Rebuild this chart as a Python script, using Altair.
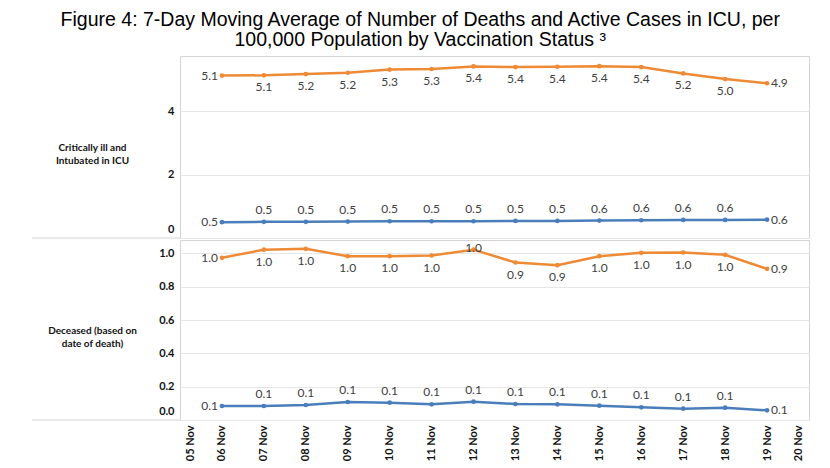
import altair as alt
import pandas as pd

# ---------------- data ----------------
dates = ["2021-11-06", "2021-11-07", "2021-11-08", "2021-11-09", "2021-11-10",
         "2021-11-11", "2021-11-12", "2021-11-13", "2021-11-14", "2021-11-15",
         "2021-11-16", "2021-11-17", "2021-11-18", "2021-11-19"]
axis_days = list(range(5, 21))  # tick labels 05 Nov .. 20 Nov

series_names = ["Unvaccinated", "Vaccinated"]
series_colors = ["#EE8A35", "#4A7EBB"]

icu_unvax = [5.13, 5.14, 5.18, 5.22, 5.32, 5.34, 5.42, 5.40, 5.41, 5.43, 5.40, 5.20, 5.02, 4.89]
icu_vax = [0.50, 0.51, 0.51, 0.52, 0.53, 0.53, 0.53, 0.54, 0.54, 0.55, 0.56, 0.57, 0.57, 0.58]
death_unvax = [0.973, 1.022, 1.027, 0.983, 0.983, 0.987, 1.022, 0.945, 0.929, 0.983, 1.003, 1.005, 0.991, 0.907]
death_vax = [0.084, 0.084, 0.090, 0.108, 0.104, 0.094, 0.110, 0.096, 0.094, 0.086, 0.076, 0.068, 0.074, 0.058]

icu_ticks = [0, 2, 4]
death_ticks = [0.0, 0.2, 0.4, 0.6, 0.8, 1.0]

title_lines = ["Figure 4: 7-Day Moving Average of Number of Deaths and Active Cases in ICU, per",
               "100,000 Population by Vaccination Status \u00b3"]
icu_label = ["Critically ill and", "Intubated in ICU"]
death_label = ["Deceased (based on", "date of death)"]


def build_df(values_by_series, default_pos, overrides=None):
    overrides = overrides or {}
    rows = []
    for name, vals in values_by_series.items():
        n = len(vals)
        for i, (d, v) in enumerate(zip(dates, vals)):
            if i == 0:
                pos = "left"
            elif i == n - 1:
                pos = "right"
            else:
                pos = overrides.get((name, d), default_pos[name])
            rows.append({"date": pd.Timestamp(d), "series": name, "value": v, "pos": pos})
    return pd.DataFrame(rows)


icu_df = build_df({"Unvaccinated": icu_unvax, "Vaccinated": icu_vax},
                  {"Unvaccinated": "below", "Vaccinated": "above"})
death_df = build_df({"Unvaccinated": death_unvax, "Vaccinated": death_vax},
                    {"Unvaccinated": "below", "Vaccinated": "above"},
                    overrides={("Unvaccinated", "2021-11-12"): "center"})

W = 629
FONT = "Lato"
GRID = "#E6E6E6"
BORDER = "#D4D4D4"

POS = {
    "left": dict(align="right", dx=-4, dy=0),
    "right": dict(align="left", dx=4, dy=0),
    "above": dict(align="center", dx=0, dy=-12),
    "below": dict(align="center", dx=0, dy=12),
    "center": dict(align="center", dx=0, dy=-2),
}

color = alt.Color("series:N", scale=alt.Scale(domain=series_names, range=series_colors), legend=None)
xdomain = [alt.DateTime(year=2021, month=11, date=5), alt.DateTime(year=2021, month=11, date=20)]


def panel(df, height, ydomain, yticks, yfmt, row_title, show_x):
    if show_x:
        xaxis = alt.Axis(
            values=[alt.DateTime(year=2021, month=11, date=d) for d in axis_days],
            format="%d %b", labelAngle=-90, labelFont=FONT, labelFontWeight="bold",
            labelFontSize=11, labelColor="#111", labelPadding=5, ticks=False, domain=False,
            grid=False, title=None, labelOverlap=False,
            labelOffset={"condition": [{"test": "date(datum.value) == 5", "value": 10},
                                       {"test": "date(datum.value) == 20", "value": -11}],
                         "value": 0},
        )
    else:
        xaxis = None
    x = alt.X("date:T", scale=alt.Scale(domain=xdomain), axis=xaxis)
    y = alt.Y("value:Q", scale=alt.Scale(domain=ydomain, nice=False, zero=True),
              axis=alt.Axis(values=yticks, format=yfmt, grid=True, gridColor=GRID, domain=False,
                            ticks=False, labelFont=FONT, labelFontWeight="bold", labelFontSize=11,
                            labelColor="#111", labelPadding=6, labelFlush=True,
                            labelFlushOffset=-4, labelOverlap=False,
                            title=row_title, titleAngle=0, titleAlign="center",
                            titleBaseline="middle", titleX=-88, titleY=height / 2,
                            titleFont=FONT, titleFontSize=10, titleFontWeight="bold",
                            titleLineHeight=13.5, titleColor="#111"))
    base = alt.Chart(df)
    line = base.mark_line(strokeWidth=2.5, point=alt.OverlayMarkDef(size=22, filled=True)).encode(
        x=x, y=y, color=color)
    layers = [line]
    for p, kw in POS.items():
        layers.append(
            base.transform_filter(alt.datum.pos == p)
            .mark_text(font=FONT, fontSize=12, color="#404040", baseline="middle", **kw)
            .encode(x=x, y=y, text=alt.Text("value:Q", format=".1f"))
        )
    sep = alt.Chart(alt.Data(values=[{}])).mark_rule(color=BORDER, strokeWidth=1).encode(
        x=alt.value(-148), x2=alt.value(0), y=alt.value(height))
    layers.append(sep)
    return alt.layer(*layers).properties(width=W, height=height)


top = panel(icu_df, 182, [0, 5.75], icu_ticks, "d", icu_label, False)
bottom = panel(death_df, 180, [0, 1.08], death_ticks, ".1f", death_label, True)

chart = (
    alt.vconcat(top, bottom, spacing=0)
    .resolve_scale(y="independent")
    .properties(
        title=alt.TitleParams(text=title_lines, font="Liberation Sans", fontSize=19.5,
                              fontWeight="normal", color="#000", anchor="middle",
                              lineHeight=20, offset=5),
        padding={"left": 23, "top": 2, "right": 4, "bottom": 0},
        background="white",
    )
    .configure_view(stroke=BORDER, strokeWidth=1)
    .configure_axis(labelOverlap=False)
)

chart.save("out.html", embed_options={"renderer": "svg", "actions": False})
